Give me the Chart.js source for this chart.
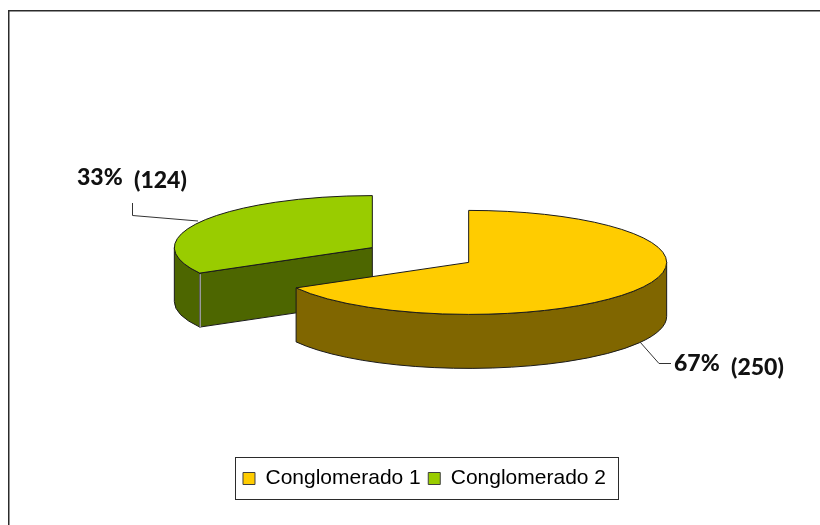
<!DOCTYPE html>
<html><head><meta charset="utf-8">
<style>html,body{margin:0;padding:0;background:#fff}canvas{display:block}</style>
<script src="https://cdn.jsdelivr.net/npm/chart.js@4/dist/chart.umd.min.js"></script>
</head><body><canvas id="c" width="820" height="525"></canvas>
<script>
const categories = ['Conglomerado 1', 'Conglomerado 2'];
const counts = [250, 124];
const percentLabels = ['67%', '33%'];
const countLabels = ['(250)', '(124)'];
const topColors = ['#FFCC00', '#99CC00'];
const wallColors = ['#806600', '#4D6600'];

const CX = 421, CY = 255, RX = 198, RY = 52, EXPLODE = 55.8, DEPTH = 54;
const SQUASH = RY / RX;
const OUTLINE = '#1a1a1a';

function sliceGeometry(arc) {
  const p = arc.getProps(['x', 'y', 'startAngle', 'endAngle', 'outerRadius']);
  const mid = (p.startAngle + p.endAngle) / 2;
  return Object.assign(p, {
    sx: CX + Math.cos(mid) * EXPLODE - 0.5,
    sy: CY + Math.sin(mid) * EXPLODE * SQUASH
  });
}
// flatten the library's circular arc into the tilted disc, about its own centre
function applyTilt(ctx, g) {
  ctx.translate(g.sx, g.sy);
  ctx.scale(1, SQUASH);
  ctx.translate(-g.x, -g.y);
}
function outlineTop(ctx, g) {
  ctx.save();
  applyTilt(ctx, g);
  ctx.beginPath();
  ctx.moveTo(g.x, g.y);
  ctx.arc(g.x, g.y, g.outerRadius, g.startAngle, g.endAngle);
  ctx.closePath();
  ctx.restore();
  ctx.stroke();
}
function drawWall(ctx, g, color) {
  const px = a => g.sx + Math.cos(a) * g.outerRadius;
  const py = a => g.sy + Math.sin(a) * g.outerRadius * SQUASH;
  ctx.fillStyle = color;
  ctx.strokeStyle = OUTLINE;
  ctx.lineWidth = 1;
  // radial face, seen only when it looks towards the viewer
  const endVisible = Math.sin(g.endAngle) < 0 && Math.cos(g.startAngle) < 0;
  if (endVisible) {
    const a = g.startAngle;
    ctx.beginPath();
    ctx.moveTo(px(a), py(a));
    ctx.lineTo(g.sx, g.sy);
    ctx.lineTo(g.sx, g.sy + DEPTH);
    ctx.lineTo(px(a), py(a) + DEPTH);
    ctx.closePath();
    ctx.fill(); ctx.stroke();
  }
  // outer rim, front half only
  const a0 = Math.max(g.startAngle, 0), a1 = Math.min(g.endAngle, Math.PI);
  if (a1 > a0) {
    ctx.beginPath();
    ctx.ellipse(g.sx, g.sy, g.outerRadius, g.outerRadius * SQUASH, 0, a0, a1);
    ctx.ellipse(g.sx, g.sy + DEPTH, g.outerRadius, g.outerRadius * SQUASH, 0, a1, a0, true);
    ctx.closePath();
    ctx.fill(); ctx.stroke();
  }
  if (endVisible) {
    const a = g.startAngle;
    ctx.save();
    ctx.strokeStyle = '#9a9a9a';
    ctx.lineWidth = 1.5;
    ctx.beginPath();
    ctx.moveTo(px(a) + 0.5, py(a) + 1);
    ctx.lineTo(px(a) + 0.5, py(a) + DEPTH);
    ctx.stroke();
    ctx.restore();
  }
}

const pie3d = {
  id: 'pie3d',
  beforeDraw(chart) {
    const ctx = chart.ctx;
    ctx.save();
    ctx.strokeStyle = '#2b2b2b';
    ctx.lineWidth = 1.5;
    ctx.beginPath();
    ctx.moveTo(8.75, 525); ctx.lineTo(8.75, 10.75); ctx.lineTo(820, 10.75);
    ctx.stroke();
    ctx.restore();
  },
  beforeDatasetsDraw(chart) {
    const ctx = chart.ctx;
    const arcs = chart.getDatasetMeta(0).data;
    const geo = arcs.map(sliceGeometry);
    ctx.save();
    for (let i = arcs.length - 1; i >= 0; i--) drawWall(ctx, geo[i], wallColors[i]);
    arcs.forEach((arc, i) => {
      ctx.save();
      applyTilt(ctx, geo[i]);
      arc.draw(ctx);
      ctx.restore();
    });
    ctx.strokeStyle = OUTLINE;
    ctx.lineWidth = 1;
    ctx.lineJoin = 'round';
    geo.forEach(g => outlineTop(ctx, g));
    ctx.restore();
    return false;
  },
  afterDraw(chart) {
    const ctx = chart.ctx;
    ctx.save();
    // legend frame
    const boxes = chart.legend.legendHitBoxes;
    const L = boxes[0].left - 8, R = boxes[boxes.length - 1].left + boxes[boxes.length - 1].width + 12;
    ctx.strokeStyle = '#2b2b2b';
    ctx.lineWidth = 1;
    ctx.strokeRect(Math.round(L) + 0.5, 457.5, Math.round(R - L), 42);
    // leader lines
    ctx.strokeStyle = '#333';
    ctx.lineWidth = 1;
    ctx.beginPath();
    ctx.moveTo(132.5, 203); ctx.lineTo(132.5, 215.5); ctx.lineTo(198, 221);
    ctx.moveTo(640, 342); ctx.lineTo(659, 363.5); ctx.lineTo(671, 363.5);
    ctx.stroke();
    // data labels
    ctx.fillStyle = '#111';
    ctx.font = '900 23px Lato';
    ctx.textBaseline = 'alphabetic';
    ctx.textAlign = 'left';
    ctx.fillText(percentLabels[1], 77, 185);
    ctx.fillText(countLabels[1], 134, 188);
    ctx.fillText(percentLabels[0], 674, 371);
    ctx.fillText(countLabels[0], 731, 375);
    ctx.restore();
  }
};

new Chart(document.getElementById('c'), {
  type: 'pie',
  data: {
    labels: categories,
    datasets: [{ data: counts, backgroundColor: topColors, borderWidth: 0 }]
  },
  options: {
    responsive: false,
    animation: false,
    radius: RX,
    layout: { padding: { left: 29, right: 0, top: 0, bottom: 26 } },
    plugins: {
      tooltip: { enabled: false },
      legend: {
        position: 'bottom',
        labels: {
          boxWidth: 12,
          boxHeight: 12,
          padding: 7.5,
          color: '#000',
          font: { family: '"Liberation Sans"', size: 21 },
          generateLabels(chart) {
            return categories.map((t, i) => ({
              text: t, index: i, fillStyle: topColors[i],
              strokeStyle: '#404040', lineWidth: 1, hidden: false
            }));
          }
        }
      }
    }
  },
  plugins: [pie3d]
});
</script></body></html>
